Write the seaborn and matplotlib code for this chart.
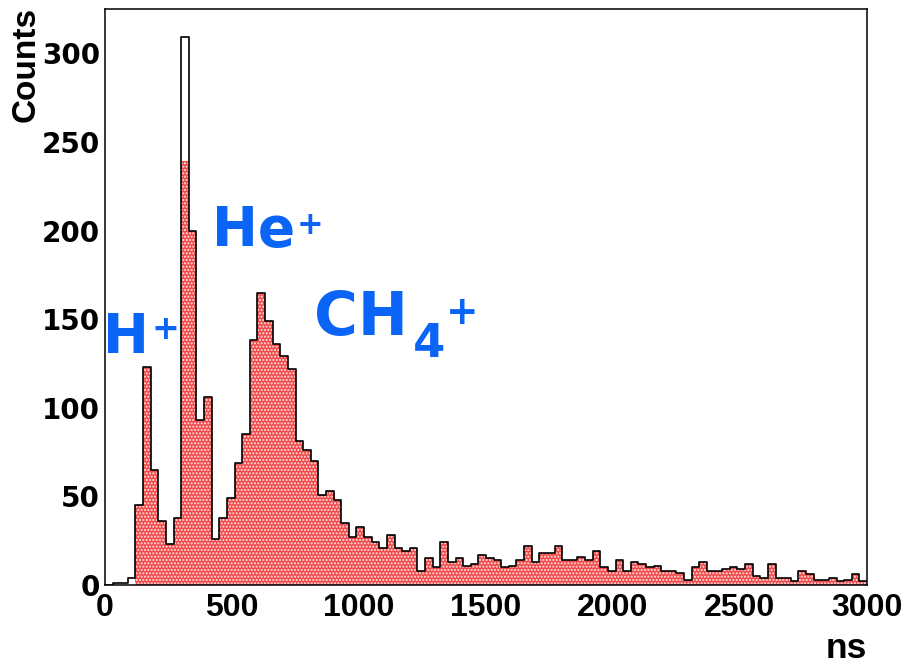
import numpy as np
import pandas as pd
import matplotlib
matplotlib.use("Agg")
import matplotlib.pyplot as plt
from matplotlib.ticker import MultipleLocator
import seaborn as sns

# ---- data (30 ns bins, 0 - 3000 ns) ----
bin_edges = list(range(0, 3001, 30))
total_counts = [
    0, 1, 1, 4, 45, 123, 65, 36, 23, 38,
    309, 200, 93, 106, 26, 38, 49, 69, 85, 138,
    165, 149, 136, 129, 122, 81, 76, 70, 51, 53,
    48, 35, 27, 33, 27, 24, 21, 28, 21, 19,
    21, 8, 15, 10, 24, 13, 15, 11, 12, 17,
    15, 14, 10, 11, 14, 22, 13, 18, 18, 22,
    14, 14, 16, 14, 19, 10, 8, 14, 8, 13,
    12, 10, 11, 8, 8, 7, 3, 10, 13, 8,
    8, 9, 10, 9, 12, 5, 4, 12, 4, 4,
    2, 8, 6, 3, 3, 4, 2, 3, 6, 2,
]
selected_counts = [
    0, 0, 0, 0, 45, 123, 65, 36, 23, 38,
    239, 200, 93, 106, 26, 38, 49, 69, 85, 138,
    165, 149, 136, 129, 122, 81, 76, 70, 51, 53,
    48, 35, 27, 33, 27, 24, 21, 28, 21, 19,
    21, 8, 15, 10, 24, 13, 15, 11, 12, 17,
    15, 14, 10, 11, 14, 22, 13, 18, 18, 22,
    14, 14, 16, 14, 19, 10, 8, 14, 8, 13,
    12, 10, 11, 8, 8, 7, 3, 10, 13, 8,
    8, 9, 10, 9, 12, 5, 4, 12, 4, 4,
    2, 8, 6, 3, 3, 4, 2, 3, 6, 2,
]
x_ticks = [0, 500, 1000, 1500, 2000, 2500, 3000]
y_ticks = [0, 50, 100, 150, 200, 250, 300]

edges = np.array(bin_edges, dtype=float)
centers = (edges[:-1] + edges[1:]) / 2
df = pd.DataFrame({"ns": centers, "total": total_counts, "sel": selected_counts})

sns.set_style("white")
plt.rcParams["font.family"] = ["Liberation Sans", "DejaVu Sans"]
plt.rcParams["font.weight"] = "bold"
plt.rcParams["hatch.linewidth"] = 1.0

W, H = 908, 668
fig = plt.figure(figsize=(W / 100, H / 100), dpi=100)
L, R, T, B = 105, 867, 9, 585
ax = fig.add_axes([L / W, 1 - B / H, (R - L) / W, (B - T) / H])

# filled (hatched red) histogram
sns.histplot(data=df, x="ns", weights="sel", bins=list(bin_edges), element="step",
             fill=True, color="#f04a4a", edgecolor="#ffe4e4", hatch=".....",
             linewidth=0, alpha=1, ax=ax)
# black outline histogram
sns.histplot(data=df, x="ns", weights="total", bins=list(bin_edges), element="step",
             fill=False, color="black", linewidth=1.2, ax=ax)

ax.set_xlim(0, 3000)
ax.set_ylim(0, 325)
ax.set_xticks(x_ticks)
ax.set_yticks(y_ticks)
ax.xaxis.set_minor_locator(MultipleLocator(100))
ax.yaxis.set_minor_locator(MultipleLocator(10))
ax.tick_params(axis="y", which="major", direction="in", length=17, width=1.0,
               labelsize=20, pad=3.5, colors="black")
ax.tick_params(axis="y", which="minor", direction="in", length=8.5, width=1.0)
ax.tick_params(axis="x", which="major", direction="in", length=12, width=1.0,
               labelsize=23, pad=6, colors="black")
ax.tick_params(axis="x", which="minor", direction="in", length=6, width=1.0)
for lab in ax.get_xticklabels():
    lab.set_fontweight("bold")
for lab in ax.get_yticklabels():
    lab.set_fontweight("bold")
    lab.set_fontfamily(["DejaVu Sans"])
for s in ax.spines.values():
    s.set_color("black")
    s.set_linewidth(1.1)
ax.set_axisbelow(False)

ax.set_xlabel("ns", loc="right", fontsize=25.5, fontweight="bold", color="black")
ax.xaxis.set_label_coords(1.0, -0.081)
ax.set_ylabel("Counts", fontsize=24, fontweight="bold", color="black")
ax.yaxis.label.set_rotation_mode("default")
ax.yaxis.label.set_horizontalalignment("center")
ax.yaxis.label.set_verticalalignment("top")
ax.yaxis.set_label_coords(-0.1037, 1.003)

# peak annotations
blue = "#0a64f5"
afam = ["DejaVu Sans"]
ax.text(-8, 131, "H", color=blue, fontsize=39.5, fontweight="bold", family=afam,
        ha="left", va="baseline")
ax.text(236, 138.7, "+", color=blue, fontsize=24, fontweight="bold", family=afam,
        ha="center", va="baseline")
ax.text(421, 191, "He", color=blue, fontsize=39.5, fontweight="bold", family=afam,
        ha="left", va="baseline")
ax.text(807, 198, "+", color=blue, fontsize=23, fontweight="bold", family=afam,
        ha="center", va="baseline")
ax.text(823, 141, "CH", color=blue, fontsize=43, fontweight="bold", family=afam,
        ha="left", va="baseline")
ax.text(1211, 128.8, "4", color=blue, fontsize=33.5, fontweight="bold", family=afam,
        ha="left", va="baseline")
ax.text(1407, 147.5, "+", color=blue, fontsize=28, fontweight="bold", family=afam,
        ha="center", va="baseline")

fig.savefig("out.png", dpi=100)
